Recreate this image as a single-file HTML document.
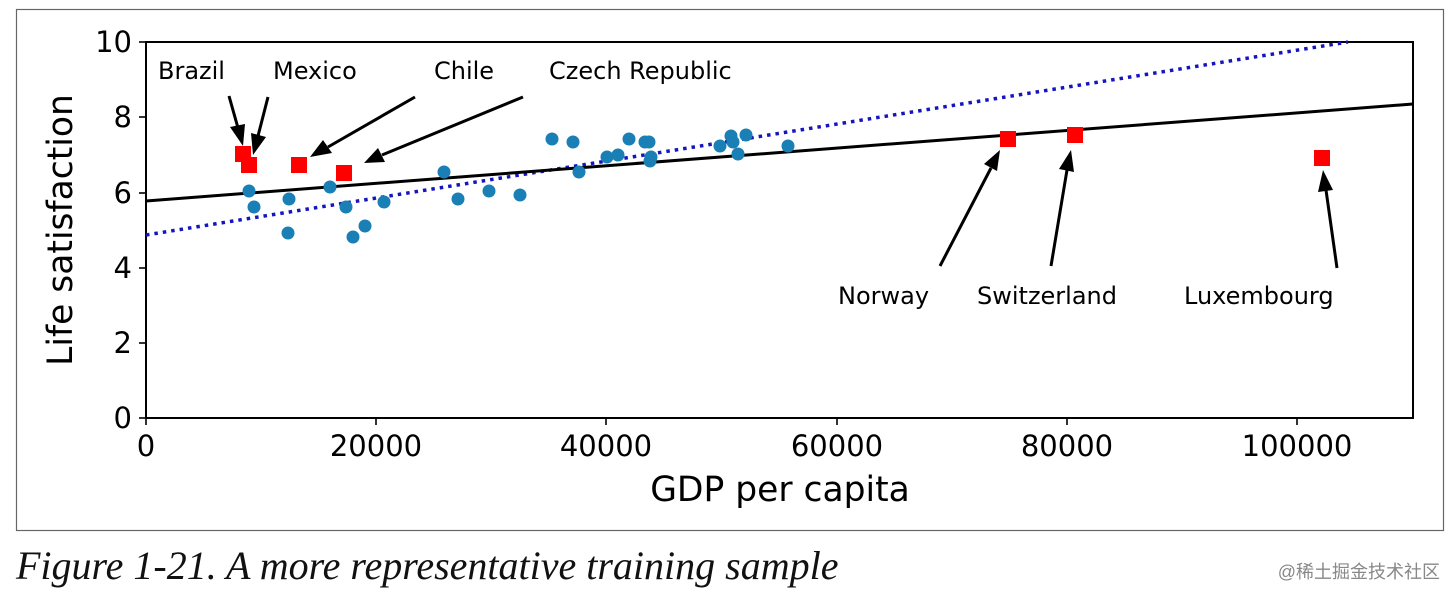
<!DOCTYPE html><html><head><style>body{margin:0;background:#fff;width:1456px;height:596px;overflow:hidden;position:relative}
svg text{font-family:"DejaVu Sans","Liberation Sans",sans-serif}</style></head><body>
<svg width="1456" height="596" xmlns="http://www.w3.org/2000/svg" style="position:absolute;left:0;top:0">
<rect x="16.5" y="9.5" width="1427" height="521" fill="#fff" stroke="#666" stroke-width="1.2"/>
<g stroke="#000" stroke-width="2" fill="none"><rect x="146" y="42" width="1267" height="376"/></g>
<g stroke="#000" stroke-width="1.6">
<line x1="139" y1="418" x2="146" y2="418"/><line x1="139" y1="343" x2="146" y2="343"/><line x1="139" y1="268" x2="146" y2="268"/><line x1="139" y1="193" x2="146" y2="193"/><line x1="139" y1="117" x2="146" y2="117"/><line x1="139" y1="42" x2="146" y2="42"/>
<line x1="146" y1="418" x2="146" y2="425"/><line x1="376" y1="418" x2="376" y2="425"/><line x1="606" y1="418" x2="606" y2="425"/><line x1="837" y1="418" x2="837" y2="425"/><line x1="1067" y1="418" x2="1067" y2="425"/><line x1="1297" y1="418" x2="1297" y2="425"/>
</g>
<g font-size="29" text-anchor="end" fill="#000">
<text x="132" y="428">0</text><text x="132" y="353">2</text><text x="132" y="278">4</text><text x="132" y="203">6</text><text x="132" y="127">8</text><text x="132" y="52">10</text></g>
<g font-size="29" text-anchor="middle" fill="#000">
<text x="146" y="456">0</text><text x="376" y="456">20000</text><text x="606" y="456">40000</text><text x="837" y="456">60000</text><text x="1067" y="456">80000</text><text x="1297" y="456">100000</text></g>
<text x="780" y="501" font-size="34.5" text-anchor="middle">GDP per capita</text>
<text transform="translate(72,230) rotate(-90)" font-size="34.5" text-anchor="middle">Life satisfaction</text>
<line x1="146" y1="235" x2="1348" y2="42" stroke="#1515c0" stroke-width="3.5" stroke-dasharray="3.5,5"/>
<line x1="146" y1="201" x2="1413" y2="104" stroke="#000" stroke-width="3"/>
<g fill="#1a7fb5">
<circle cx="249" cy="191" r="6.5"/><circle cx="254" cy="207" r="6.5"/><circle cx="288" cy="233" r="6.5"/><circle cx="289" cy="199" r="6.5"/><circle cx="330" cy="187" r="6.5"/><circle cx="346" cy="207" r="6.5"/><circle cx="353" cy="237" r="6.5"/><circle cx="365" cy="226" r="6.5"/><circle cx="384" cy="202" r="6.5"/><circle cx="444" cy="172" r="6.5"/><circle cx="458" cy="199" r="6.5"/><circle cx="489" cy="191" r="6.5"/><circle cx="520" cy="195" r="6.5"/><circle cx="552" cy="139" r="6.5"/><circle cx="573" cy="142" r="6.5"/><circle cx="579" cy="172" r="6.5"/><circle cx="607" cy="157" r="6.5"/><circle cx="618" cy="155" r="6.5"/><circle cx="629" cy="139" r="6.5"/><circle cx="645" cy="142" r="6.5"/><circle cx="649" cy="142" r="6.5"/><circle cx="650" cy="161" r="6.5"/><circle cx="651" cy="157" r="6.5"/><circle cx="720" cy="146" r="6.5"/><circle cx="731" cy="136" r="6.5"/><circle cx="733" cy="142" r="6.5"/><circle cx="738" cy="154" r="6.5"/><circle cx="746" cy="135" r="6.5"/><circle cx="788" cy="146" r="6.5"/>
</g>
<g fill="#f00">
<rect x="235" y="146" width="16" height="16"/><rect x="241" y="157" width="16" height="16"/><rect x="291" y="157" width="16" height="16"/><rect x="336" y="165" width="16" height="16"/><rect x="1000" y="131" width="16" height="16"/><rect x="1067" y="127" width="16" height="16"/><rect x="1314" y="150" width="16" height="16"/>
</g>
<g stroke="#000" stroke-width="3">
<line x1="229" y1="96" x2="238" y2="128"/><line x1="268" y1="97" x2="258" y2="136"/><line x1="415" y1="97" x2="328" y2="147"/><line x1="523" y1="97" x2="382" y2="155"/><line x1="940" y1="266" x2="991" y2="168"/><line x1="1051" y1="266" x2="1067" y2="170"/><line x1="1337" y1="268" x2="1326" y2="190"/>
</g>
<g fill="#000">
<polygon points="243,146 230,127 245,124"/>
<polygon points="253,155 251,133 266,137"/>
<polygon points="310,157 323,140 332,153"/>
<polygon points="364,163 378,148 385,162"/>
<polygon points="1000,150 997,171 984,164"/>
<polygon points="1071,150 1074,172 1059,169"/>
<polygon points="1323,170 1333,190 1318,192"/>
</g>
<g font-size="24" fill="#000">
<text x="158" y="79">Brazil</text><text x="273" y="79">Mexico</text><text x="434" y="79">Chile</text><text x="549" y="79">Czech Republic</text>
<text x="838" y="304">Norway</text><text x="977" y="304">Switzerland</text><text x="1184" y="304">Luxembourg</text></g>
</svg>
<div style="position:absolute;left:16px;top:542px;font:italic 40px 'Liberation Serif',serif;color:#111;white-space:nowrap">Figure 1-21. A more representative training sample</div>
<div style="position:absolute;right:16px;top:558px;font:18px 'Liberation Sans','Noto Sans CJK SC',sans-serif;color:#888">@稀土掘金技术社区</div>
</body></html>
